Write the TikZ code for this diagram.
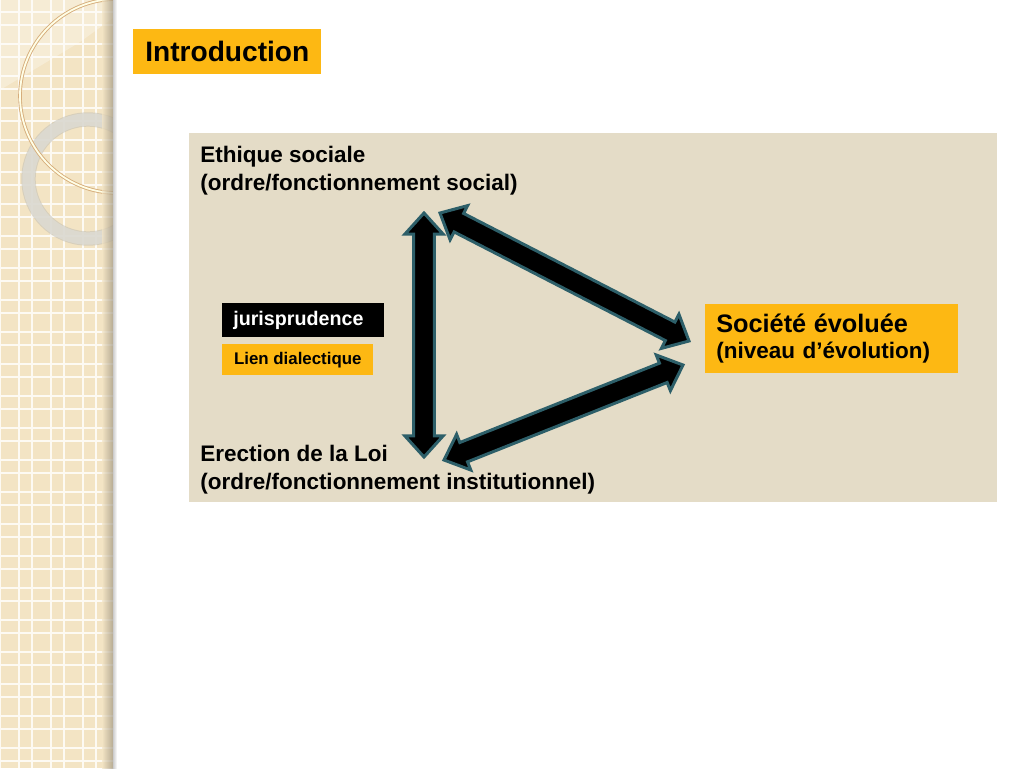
\documentclass[tikz,border=0pt]{standalone}
\usepackage{fontspec}
\setmainfont{Liberation Sans}
\usetikzlibrary{calc}

\definecolor{stripbeige}{RGB}{243,228,196}
\definecolor{panelbeige}{RGB}{228,220,199}
\definecolor{boxorange}{RGB}{253,184,19}
\definecolor{arrowteal}{RGB}{45,95,105}
\definecolor{ringgray}{RGB}{222,220,212}

\tikzset{
  orangebox/.style={fill=boxorange, text=black, inner sep=0pt, font=\bfseries},
  blacklabel/.style={fill=black, text=white, inner sep=0pt, font=\bfseries},
  sidetext/.style={inner sep=0pt, align=left, font=\bfseries\fontsize{16}{20}\selectfont},
  blockarrow/.style={fill=black, draw=arrowteal, line width=0.75mm, line join=miter},
  gridline/.style={white!80!stripbeige, line width=0.35mm}
}

% double headed block arrow between two named coordinates
\newcommand{\blockarrow}[2]{%
  \filldraw[blockarrow]
    (#1)
    -- ($($(#1)!5.3mm!(#2)$)!4.8mm!90:(#2)$)
    -- ($($(#1)!5.3mm!(#2)$)!2.6mm!90:(#2)$)
    -- ($($(#2)!5.3mm!(#1)$)!2.6mm!-90:(#1)$)
    -- ($($(#2)!5.3mm!(#1)$)!4.8mm!-90:(#1)$)
    -- (#2)
    -- ($($(#2)!5.3mm!(#1)$)!4.8mm!90:(#1)$)
    -- ($($(#2)!5.3mm!(#1)$)!2.6mm!90:(#1)$)
    -- ($($(#1)!5.3mm!(#2)$)!2.6mm!-90:(#2)$)
    -- ($($(#1)!5.3mm!(#2)$)!4.8mm!-90:(#2)$)
    -- cycle;}

\begin{document}
\begin{tikzpicture}[x=0.25mm, y=-0.25mm]
    \useasboundingbox (0,0) rectangle (1024,768);
    \fill[white] (0,0) rectangle (1024,768);

    % Decorative strip on the left
    \begin{scope}
        \clip (0,0) rectangle (113,768);
        \fill[stripbeige] (0,0) rectangle (113,768);
        \foreach \gx in {0,19,32,51,64,83,96}
            \draw[gridline] (\gx,0) -- (\gx,768);
        \foreach \k in {0,...,23} {
            \draw[gridline] (0,12+32*\k) -- (113,12+32*\k);
            \draw[gridline] (0,25+32*\k) -- (113,25+32*\k);
        }
        \fill[white, opacity=0.3] (0,0) -- (113,0) -- (113,18) -- (80,42) -- (0,90) -- cycle;
        % rings
        \draw[ringgray!85!black, line width=3.6mm, opacity=0.5] (88,179) circle (14.875mm);
        \draw[ringgray, line width=3.1mm, opacity=0.8] (88,179) circle (14.875mm);
        \draw[brown!55!stripbeige, line width=0.9mm] (117,96) circle (24.25mm);
        \draw[white!90!yellow, line width=0.45mm] (117,96) circle (24.25mm);
        % shadow at the edge
        \shade[left color=stripbeige, right color=black!35!stripbeige, opacity=0.7] (102,0) rectangle (113,768);
    \end{scope}
    \shade[left color=black!20, right color=white] (113,0) rectangle (117,768);

    % Title
    \node[orangebox, anchor=north west, minimum width=47mm, minimum height=11.25mm,
          font=\bfseries\fontsize{20}{24}\selectfont] (intro) at (133,29) {Introduction};

    % Main panel
    \node[fill=panelbeige, inner sep=0pt, anchor=north west, minimum width=202mm, minimum height=92.25mm] (panel) at (189,133) {};

    % Labels of the three poles
    \node[sidetext, anchor=north west] (ethique) at (200,146) {Ethique sociale\\(ordre/fonctionnement social)};
    \node[sidetext, anchor=north west] (erection) at (200,445) {Erection de la Loi\\(ordre/fonctionnement institutionnel)};
    \node[orangebox, anchor=north west, inner xsep=2.75mm, text width=57.75mm, minimum height=17.25mm, align=left,
          font=\bfseries\fontsize{16}{18.5}\selectfont] (societe) at (705,304)
        {{\fontsize{18}{18.5}\selectfont Société évoluée}\\(niveau d’évolution)};

    % Legend boxes
    \node[blacklabel, anchor=north west, inner xsep=2.75mm, text width=35mm, minimum height=8.5mm, align=left,
          font=\bfseries\fontsize{14}{16}\selectfont] (juris) at (222,303) {\raisebox{-1.5pt}{jurisprudence}};
    \node[orangebox, anchor=north west, minimum width=37.75mm, minimum height=7.75mm,
          font=\bfseries\fontsize{12}{14}\selectfont] (lien) at (222,344) {\raisebox{-1pt}{Lien dialectique}};

    % Arrow ends
    \coordinate (vTop) at (424,213);
    \coordinate (vBot) at (424,457);
    \coordinate (dTopA) at (440,213);
    \coordinate (dTopB) at (689,341);
    \coordinate (dBotA) at (683,365);
    \coordinate (dBotB) at (444,460);

    % Dialectic arrows
    \blockarrow{vTop}{vBot}
    \blockarrow{dTopA}{dTopB}
    \blockarrow{dBotA}{dBotB}

\end{tikzpicture}
\end{document}
